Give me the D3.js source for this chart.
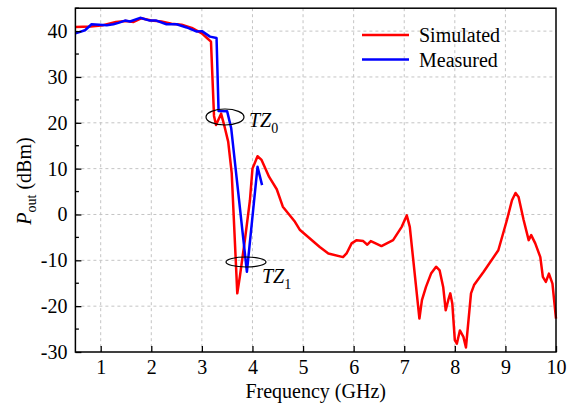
<!DOCTYPE html>
<html><head><meta charset="utf-8">
<script src="https://cdn.jsdelivr.net/npm/d3@7"></script>
<style>
@font-face{font-family:"RefSerif";src:local("Liberation Serif"),local("LiberationSerif"),local("LiberationSerif-Regular");font-style:normal;}
@font-face{font-family:"RefSerif";src:local("Liberation Serif Italic"),local("LiberationSerif-Italic");font-style:italic;}
html,body,svg,svg *{font-family:"Liberation Serif" !important;}
body{margin:0}
</style>
</head><body><svg id="c" width="576" height="403"></svg>
<script>
const simFreq = [0.5,0.8,1.05,1.3,1.5,1.65,1.8,2.0,2.2,2.4,2.6,2.8,3.0,3.1,3.18,3.24,3.28,3.38,3.45,3.52,3.59,3.70,3.75,3.85,3.95,4.0,4.1,4.18,4.33,4.48,4.6,4.84,4.94,5.33,5.5,5.79,5.86,5.96,6.06,6.19,6.27,6.34,6.55,6.78,6.95,7.05,7.11,7.3,7.35,7.43,7.53,7.63,7.7,7.77,7.82,7.87,7.91,7.95,8.0,8.04,8.1,8.17,8.22,8.27,8.32,8.38,8.57,8.86,9.03,9.13,9.2,9.26,9.36,9.46,9.51,9.59,9.69,9.74,9.8,9.86,9.93,10.0];
const simPout = [40.9,41.0,41.3,42.0,42.2,42.0,42.8,42.3,42.1,41.6,41.4,40.7,39.5,38.5,37.7,21.5,19.5,22.0,19.1,15.9,9.0,-17.2,-13.6,-5.6,3.1,10.0,12.7,11.9,8.2,5.5,1.7,-1.6,-3.4,-7.1,-8.5,-9.3,-8.5,-6.3,-5.6,-5.8,-6.6,-5.8,-6.9,-5.6,-2.7,-0.2,-2.7,-22.7,-18.7,-15.8,-12.9,-11.4,-12.2,-15.8,-20.9,-18.7,-17.2,-19.4,-27.4,-28.2,-25.3,-26.7,-29.0,-23.1,-17.2,-15.4,-12.5,-7.8,-1.2,3.1,4.7,3.8,-1.2,-5.6,-4.5,-6.3,-9.3,-13.6,-14.7,-12.9,-15.1,-22.7];
const measFreq = [0.5,0.69,0.82,1.12,1.25,1.35,1.48,1.58,1.78,1.97,2.1,2.3,2.5,2.7,2.9,3.0,3.16,3.29,3.33,3.5,3.58,3.89,4.1,4.19];
const measPout = [39.5,40.2,41.5,41.3,41.5,41.8,42.3,42.1,42.9,42.3,42.3,41.5,41.5,40.8,39.9,40.0,38.8,38.5,22.6,22.5,18.8,-12.5,10.4,6.4];
const xTicks = [1,2,3,4,5,6,7,8,9,10];
const yTicks = [-30,-20,-10,0,10,20,30,40];
const yMinor = [-25,-15,-5,5,15,25,35,45];
const seriesNames = ["Simulated","Measured"];
const seriesColors = ["#ff0000","#0000ff"];
const FST = "font-family:'Liberation Serif';font-size:20px;";

const svg = d3.select("#c");
const L=75.4, R=556, T=8.2, B=352;
const x = d3.scaleLinear().domain([0.5,10]).range([L,R]);
const y = d3.scaleLinear().domain([-30,45]).range([B,T]);

// grid
const g = svg.append("g");
g.selectAll(".gx").data(xTicks.filter(d=>d<10)).enter().append("line")
 .attr("x1",d=>x(d)).attr("x2",d=>x(d)).attr("y1",T).attr("y2",B)
 .attr("stroke","#c4c4c4").attr("stroke-dasharray","3,3").attr("stroke-width",1);
g.selectAll(".gy").data(yTicks.filter(d=>d>-30)).enter().append("line")
 .attr("y1",d=>y(d)).attr("y2",d=>y(d)).attr("x1",L).attr("x2",R)
 .attr("stroke","#c4c4c4").attr("stroke-dasharray","3,3").attr("stroke-width",1);

// lines
const line = d3.line().x(d=>x(d[0])).y(d=>y(d[1]));
const simData = simFreq.map((f,i)=>[f,simPout[i]]);
const measData = measFreq.map((f,i)=>[f,measPout[i]]);
svg.append("path").datum(simData).attr("d",line).attr("fill","none").attr("stroke",seriesColors[0]).attr("stroke-width",2.5).attr("stroke-linejoin","round");
svg.append("path").datum(measData).attr("d",line).attr("fill","none").attr("stroke",seriesColors[1]).attr("stroke-width",2.5).attr("stroke-linejoin","round");

// axes
const fmt = d => String(d);
const xAxis = d3.axisBottom(x).tickValues(xTicks).tickSize(-6).tickPadding(8).tickFormat(fmt);
const ax = svg.append("g").attr("transform",`translate(0,${B})`).call(xAxis).attr("font-family",null).attr("font-size",null);
ax.select(".domain").remove();
ax.selectAll("line").attr("stroke","#000").attr("stroke-width",1.3);
ax.selectAll("text").attr("style",FST).attr("fill","#000").attr("dy","0.72em");
const yAxis = d3.axisLeft(y).tickValues(yTicks).tickSize(-6).tickPadding(8).tickFormat(fmt);
const ay = svg.append("g").attr("transform",`translate(${L},0)`).call(yAxis).attr("font-family",null).attr("font-size",null);
ay.select(".domain").remove();
ay.selectAll("line").attr("stroke","#000").attr("stroke-width",1.3);
ay.selectAll("text").attr("style",FST).attr("fill","#000");
svg.selectAll(".ym").data(yMinor).enter().append("line")
 .attr("x1",L).attr("x2",L+3.5).attr("y1",d=>y(d)).attr("y2",d=>y(d)).attr("stroke","#000").attr("stroke-width",1.3);
svg.append("rect").attr("x",L).attr("y",T).attr("width",R-L).attr("height",B-T).attr("fill","none").attr("stroke","#000").attr("stroke-width",1.5);

// axis titles
svg.append("text").attr("x",(L+R)/2).attr("y",398).attr("text-anchor","middle").attr("style",FST).text("Frequency (GHz)");
const yt = svg.append("text").attr("transform","translate(31,181) rotate(-90)").attr("text-anchor","middle").attr("style",FST);
yt.append("tspan").attr("style","font-style:italic").text("P");
yt.append("tspan").attr("style","font-size:14px").attr("dy",5).text("out");
yt.append("tspan").attr("dy",-5).text(" (dBm)");

// legend
seriesNames.forEach((n,i)=>{
  const ly = 35 + i*24.5;
  svg.append("line").attr("x1",362).attr("x2",409).attr("y1",ly).attr("y2",ly).attr("stroke",seriesColors[i]).attr("stroke-width",2.5);
  svg.append("text").attr("x",419).attr("y",ly+7).attr("style",FST).text(n);
});

// annotations
svg.append("ellipse").attr("cx",225).attr("cy",117).attr("rx",19).attr("ry",8).attr("fill","none").attr("stroke","#000").attr("stroke-width",1.2);
svg.append("ellipse").attr("cx",246).attr("cy",262).attr("rx",20).attr("ry",5).attr("fill","none").attr("stroke","#000").attr("stroke-width",1.2);
function tz(xp,yp,sub){
  const t = svg.append("text").attr("x",xp).attr("y",yp).attr("style",FST);
  t.append("tspan").attr("style","font-style:italic").text("TZ");
  t.append("tspan").attr("style","font-size:14px").attr("dy",6).text(sub);
}
tz(249,127,"0");
tz(262,283,"1");
</script></body></html>
